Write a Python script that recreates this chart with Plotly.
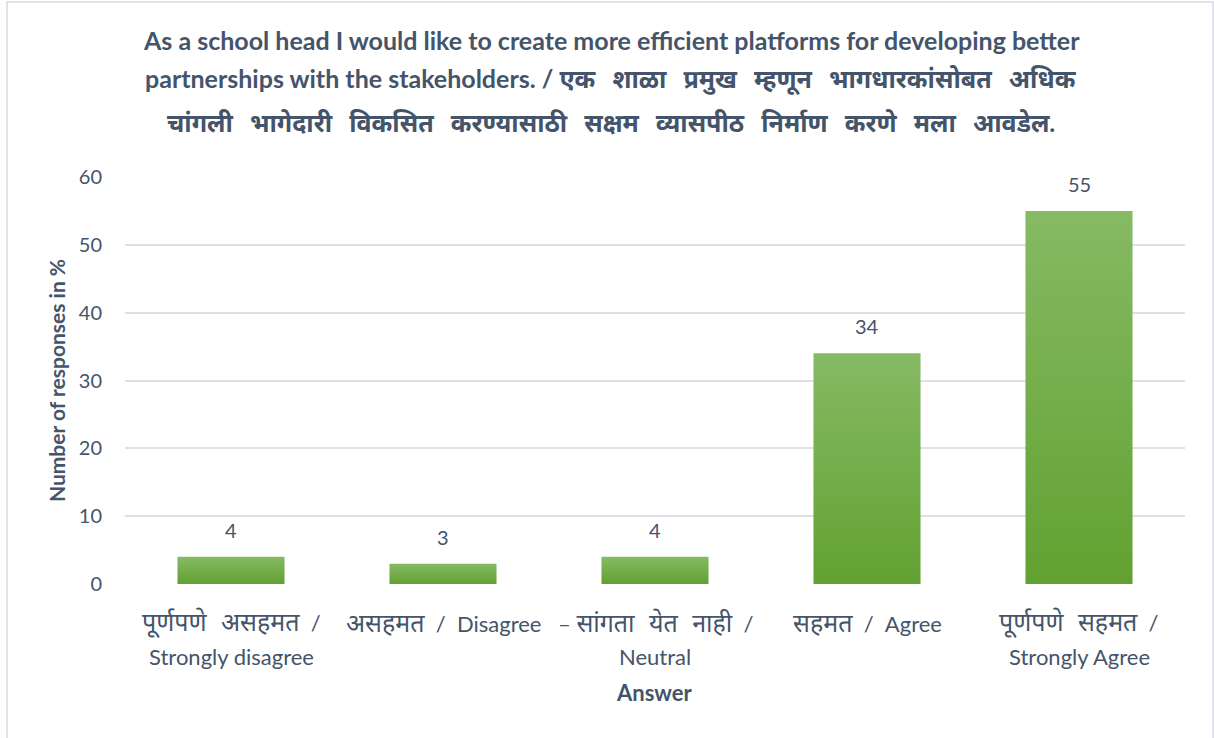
import re
import plotly.graph_objects as go

# --- data -------------------------------------------------------------------
categories_line1 = [
    "पूर्णपणे असहमत /",
    "असहमत / Disagree",
    "– सांगता येत नाही /",
    "सहमत / Agree",
    "पूर्णपणे सहमत /",
]
categories_line2 = [
    "Strongly disagree",
    "",
    "Neutral",
    "",
    "Strongly Agree",
]
values = [4, 3, 4, 34, 55]
y_ticks = [0, 10, 20, 30, 40, 50, 60]

title_lines = [
    "As a school head I would like to create more efficient platforms for developing better",
    "partnerships with the stakeholders. / एक शाळा प्रमुख म्हणून भागधारकांसोबत अधिक",
    "चांगली भागेदारी विकसित करण्यासाठी सक्षम व्यासपीठ निर्माण करणे मला आवडेल.",
]

# --- styling ----------------------------------------------------------------
W, H = 1214, 738
ML, MR, MT, MB = 125, 29, 177, 154
PW, PH = W - ML - MR, H - MT - MB
TEXT = "#44546A"
GRID = "#DDE1E6"
FONT = "Lato, 'Noto Sans', 'Open Sans', sans-serif"
BAR_W = 0.505

DEVA = re.compile(r"[\u0900-\u097F]+(?:[\s.]+[\u0900-\u097F]+)*\.?")


def deva_styled(text, size, spacing):
    """Set Devanagari runs at their own size with wider word gaps."""
    style = f"font-size:{size}px;word-spacing:{spacing}px"
    return DEVA.sub(lambda m: f'<span style="{style}">{m.group(0)}</span>', text)


def px_x(px):
    return (px - ML) / PW


def px_y(py):
    return (H - MB - py) / PH


fig = go.Figure()

# bars as gradient-filled rectangles in data coordinates
for i, v in enumerate(values):
    x0, x1 = i - BAR_W / 2, i + BAR_W / 2
    fig.add_trace(go.Scatter(
        x=[x0, x1, x1, x0, x0],
        y=[0, 0, v, v, 0],
        mode="lines",
        line=dict(width=0),
        fill="toself",
        fillgradient=dict(type="vertical",
                          colorscale=[[0, "#62A131"], [1, "#86BA64"]]),
        hoverinfo="skip",
        showlegend=False,
    ))

annotations = []
# value labels above bars
for i, v in enumerate(values):
    annotations.append(dict(
        x=i, y=v, xref="x", yref="y", text=str(v), showarrow=False,
        yanchor="bottom", yshift=13,
        font=dict(family=FONT, size=20, color=TEXT),
    ))

# two-line category labels
for i, (a, b) in enumerate(zip(categories_line1, categories_line2)):
    first = a.replace(" /", "  /").replace("/ ", "/  ")
    annotations.append(dict(
        x=i, y=px_y(622), xref="x", yref="paper",
        text=deva_styled(first, 25, 8),
        showarrow=False, yanchor="middle",
        font=dict(family=FONT, size=22, color=TEXT),
    ))
    if b:
        annotations.append(dict(
            x=i, y=px_y(656), xref="x", yref="paper", text=b, showarrow=False,
            yanchor="middle", font=dict(family=FONT, size=22, color=TEXT),
        ))

# axis title for x
annotations.append(dict(
    x=px_x(654), y=px_y(692), xref="paper", yref="paper", text="<b>Answer</b>",
    showarrow=False, yanchor="middle",
    font=dict(family=FONT, size=22, color=TEXT),
))

# chart title lines
for py, line in zip([40, 80, 122], title_lines):
    annotations.append(dict(
        x=px_x(611), y=px_y(py), xref="paper", yref="paper",
        text=f"<b>{deva_styled(line, 25, 11)}</b>", showarrow=False,
        yanchor="middle",
        font=dict(family=FONT, size=25, color=TEXT),
    ))

fig.update_layout(
    width=W, height=H,
    margin=dict(l=ML, r=MR, t=MT, b=MB),
    paper_bgcolor="white", plot_bgcolor="white",
    annotations=annotations,
    font=dict(family=FONT, color=TEXT),
    shapes=[dict(
        type="rect", xref="paper", yref="paper",
        x0=px_x(7), x1=px_x(1213), y0=px_y(760), y1=px_y(2),
        line=dict(color="#E0E4EA", width=2), fillcolor="rgba(0,0,0,0)",
        layer="below",
    )],
    xaxis=dict(
        range=[-0.5, len(values) - 0.5],
        showgrid=False, zeroline=False, showticklabels=False,
        showline=False, fixedrange=True,
    ),
    yaxis=dict(
        range=[0, 60], tickvals=y_ticks,
        showgrid=True, gridcolor=GRID, gridwidth=1.5,
        zeroline=False, showline=False,
        ticks="", ticklabelstandoff=22,
        tickfont=dict(family=FONT, size=20, color=TEXT),
        title=dict(text="<b>Number of responses in %</b>", standoff=7,
                   font=dict(family=FONT, size=21, color=TEXT)),
        fixedrange=True,
    ),
)

fig.write_html("out.html")
